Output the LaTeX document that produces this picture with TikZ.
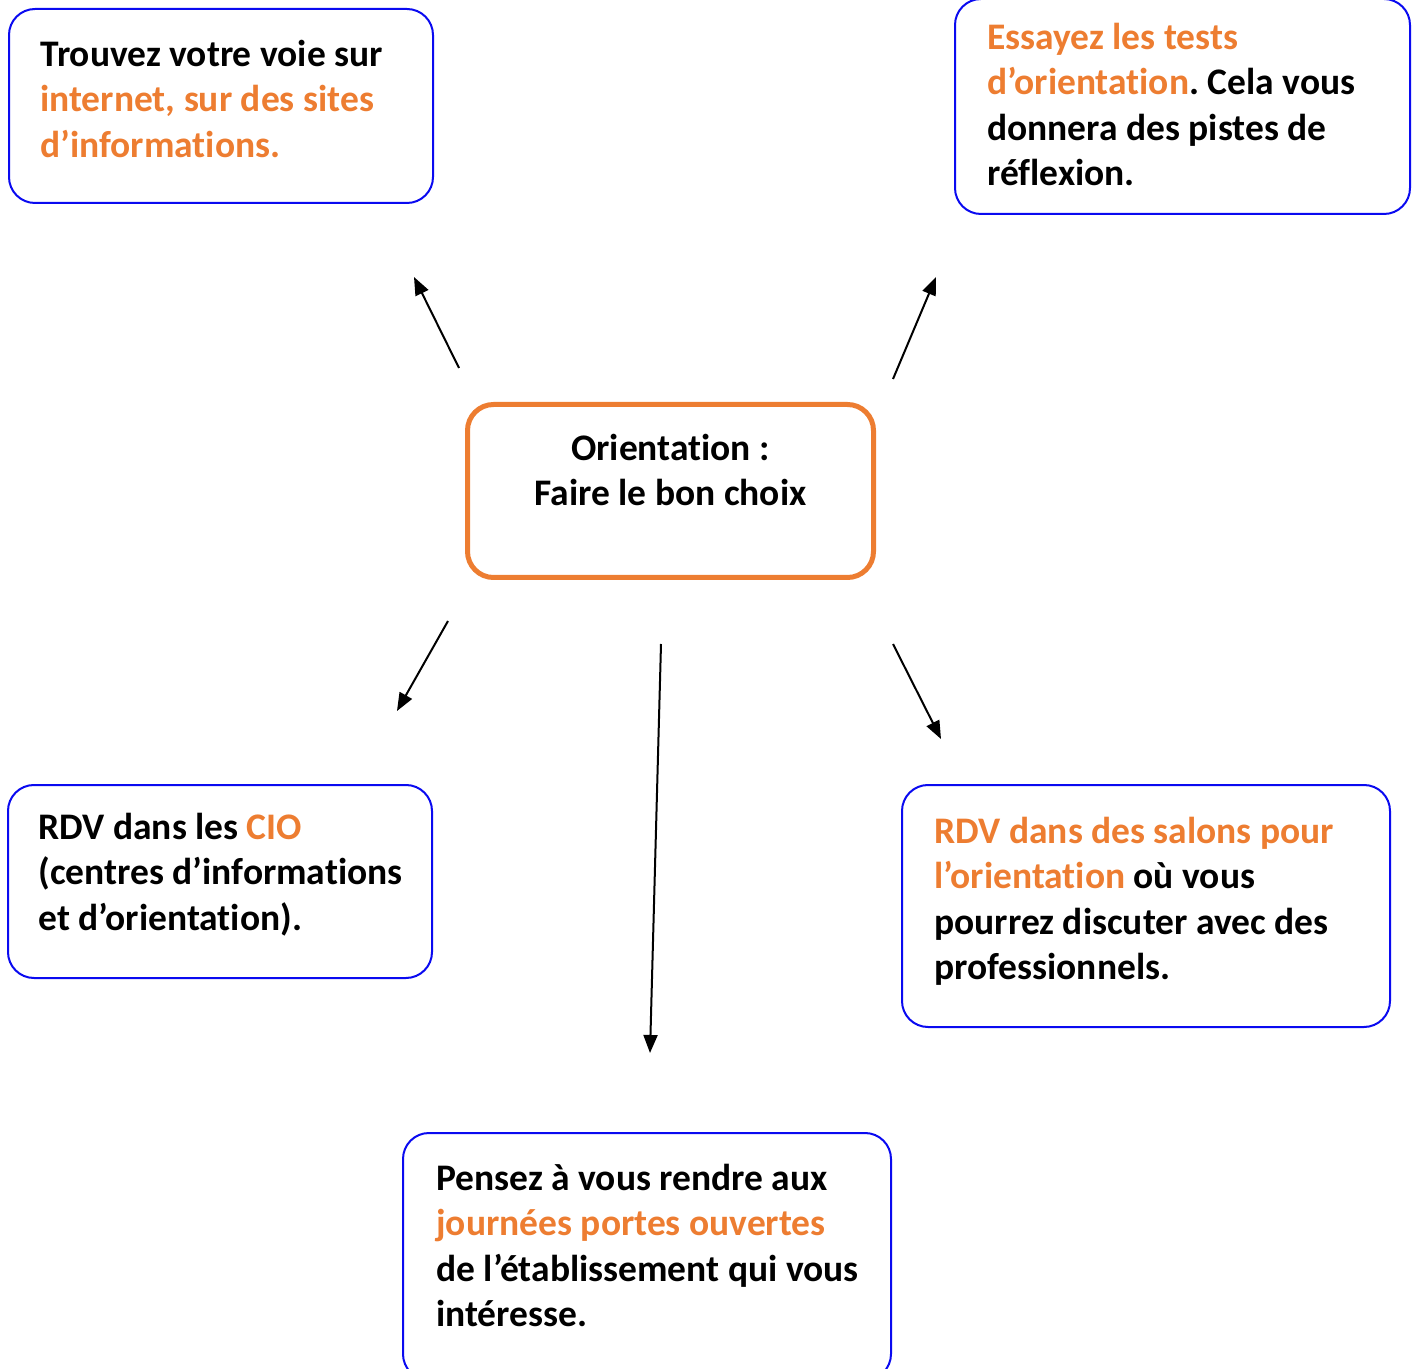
\documentclass[tikz,border=0pt]{standalone}
\usepackage{fontspec}
\setmainfont{Carlito}[Ligatures={NoCommon,NoContextual}]
\usetikzlibrary{arrows.meta}
\definecolor{orng}{HTML}{ED7D31}
\definecolor{bblue}{HTML}{0A0AF0}
\frenchspacing
\begin{document}
\begin{tikzpicture}[x=0.5pt,y=-0.5pt,
  box/.style={draw=bblue,line width=1pt,rounded corners=13pt,inner sep=0pt},
  cbox/.style={draw=orng,line width=2.5pt,rounded corners=13pt,inner sep=0pt},
  txt/.style={anchor=north west,inner sep=0pt,align=left,font=\fontsize{18.75}{22.75}\selectfont\bfseries},
  ctxt/.style={anchor=north,inner sep=0pt,align=center,font=\fontsize{18.75}{22.75}\selectfont\bfseries},
  arr/.style={line width=1pt,-{Triangle[length=9pt,width=7pt]}}]
\useasboundingbox (0,0) rectangle (1415,1369);
\clip (0,0) rectangle (1415,1369);
% boxes
\node[box,minimum width=212pt,minimum height=97pt] (b1) at (221,106) {};
\node[box,minimum width=227.5pt,minimum height=107.5pt] (b2) at (1182.5,106.5) {};
\node[cbox,minimum width=203pt,minimum height=86.5pt] (bc) at (670.5,491) {};
\node[box,minimum width=212pt,minimum height=96.5pt] (b3) at (220,881.5) {};
\node[box,minimum width=244pt,minimum height=121pt] (b4) at (1146,906) {};
\node[box,minimum width=244pt,minimum height=123.5pt] (b5) at (647,1256.5) {};
% texts
\node[txt] (t1) at (40,34.15) {\strut Trouvez votre voie sur\\ \textcolor{orng}{internet, sur des sites}\\ \textcolor{orng}{d’informations.}};
\node[txt] (t2) at (987,17.15) {\strut\textcolor{orng}{Essayez les tests}\\ \textcolor{orng}{d’orientation}. Cela vous\\ donnera des pistes de\\ réflexion.};
\node[ctxt] (tc) at (670.5,428.15) {\strut Orientation :\\ Faire le bon choix};
\node[txt] (t3) at (38,807.15) {\strut RDV dans les \textcolor{orng}{CIO}\\ (centres d’informations\\ et d’orientation).};
\node[txt] (t4) at (934,811.15) {\strut\textcolor{orng}{RDV dans des salons pour}\\ \textcolor{orng}{l’orientation} où vous\\ pourrez discuter avec des\\ professionnels.};
\node[txt] (t5) at (436,1158.15) {\strut Pensez à vous rendre aux\\ \textcolor{orng}{journées portes ouvertes}\\ de l’établissement qui vous\\ intéresse.};
% arrow ends
\coordinate (a1s) at (459,368); \coordinate (a1e) at (414,277);
\coordinate (a2s) at (893,379); \coordinate (a2e) at (936,277);
\coordinate (a3s) at (448,621); \coordinate (a3e) at (397,711);
\coordinate (a4s) at (661,644); \coordinate (a4e) at (650,1053);
\coordinate (a5s) at (893,644); \coordinate (a5e) at (941,739);
\draw[arr] (a1s) -- (a1e);
\draw[arr] (a2s) -- (a2e);
\draw[arr] (a3s) -- (a3e);
\draw[arr] (a4s) -- (a4e);
\draw[arr] (a5s) -- (a5e);
\end{tikzpicture}
\end{document}
